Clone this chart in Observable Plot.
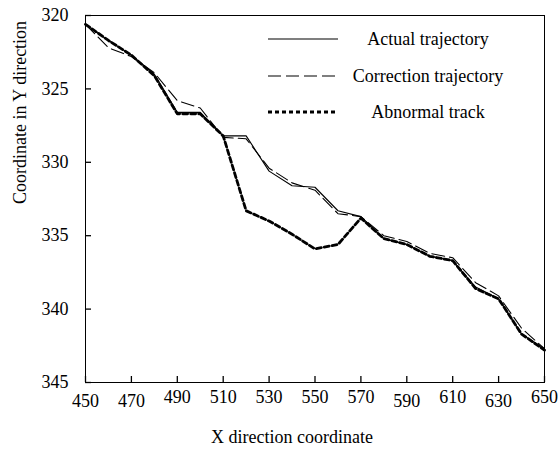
<!DOCTYPE html>
<html><head><meta charset="utf-8">
<script src="https://cdn.jsdelivr.net/npm/d3@7"></script>
<script src="https://cdn.jsdelivr.net/npm/@observablehq/plot@0.6"></script>
<style>
body{margin:0;background:#fff;}
#wrap{position:relative;width:558px;height:452px;font-family:"Liberation Serif","Times New Roman",serif;}
.lg{position:absolute;font-size:18px;color:#000;white-space:nowrap;transform:translate(-50%,-50%);font-family:"Liberation Serif","Times New Roman",serif;}
.ls{position:absolute;}
</style></head><body><div id="wrap"></div>
<script>
const xValues    = [450,460,470,480,490,500,510,520,530,540,550,560,570,580,590,600,610,620,630,640,650];
const actual     = [320.6,321.7,322.7,324.0,326.6,326.6,328.2,328.2,330.6,331.6,331.7,333.3,333.7,335.2,335.6,336.4,336.7,338.5,339.3,341.7,342.7];
const correction = [320.6,322.2,322.8,323.9,325.8,326.3,328.3,328.4,330.4,331.4,331.9,333.5,333.7,335.0,335.4,336.2,336.5,338.2,339.1,341.3,342.7];
const abnormal   = [320.6,321.7,322.7,324.1,326.7,326.7,328.2,333.3,334.0,334.9,335.9,335.6,333.8,335.2,335.6,336.4,336.7,338.6,339.3,341.7,342.8];
const seriesNames = ["Actual trajectory","Correction trajectory","Abnormal track"];
const xTicks = [450,470,490,510,530,550,570,590,610,630,650];
const xTicksLow = [450,470,590,630];
const yTicks = [320,325,330,335,340,345];
const xTitle = "X direction coordinate";
const yTitle = "Coordinate in Y direction";

const styles = [
  {stroke:"#000", strokeWidth:1.1},
  {stroke:"#000", strokeWidth:1.1, strokeDasharray:"13,5"},
  {stroke:"#000", strokeWidth:2.8, strokeDasharray:"5,3"}
];
const seriesVals = [actual, correction, abnormal];
const tables = seriesVals.map(vals => xValues.map((x,i)=>({x, y: vals[i]})));

const font = "'Liberation Serif', 'Times New Roman', serif";
const chart = Plot.plot({
  width:558, height:452,
  marginLeft:85, marginRight:14, marginTop:15, marginBottom:70,
  style:{fontFamily:font, fontSize:"18px", color:"#000", background:"#fff"},
  x:{domain:[450,650]},
  y:{domain:[320,345], reverse:true},
  marks:[
    Plot.frame({stroke:"#000", strokeWidth:1}),
    Plot.axisX(xTicks, {tickSize:6, dy:-6, tickFormat:()=>"", label:null, stroke:"#000", strokeWidth:1.3}),
    Plot.axisY(yTicks, {tickSize:6, dx:6, tickFormat:()=>"", label:null, stroke:"#000", strokeWidth:1.3}),
    Plot.axisX(xTicks.filter(t=>!xTicksLow.includes(t)), {tickSize:0, tickPadding:8, label:null, fontSize:18}),
    Plot.axisX(xTicksLow, {tickSize:0, tickPadding:12, label:null, fontSize:18}),
    Plot.axisY(yTicks, {tickSize:0, tickPadding:17, label:null, fontSize:18}),
    Plot.line(tables[0], {x:"x", y:"y", ...styles[0]}),
    Plot.line(tables[1], {x:"x", y:"y", ...styles[1]}),
    Plot.line(tables[2], {x:"x", y:"y", ...styles[2]}),
    Plot.text([xTitle], {text:d=>d, frameAnchor:"bottom", dy:60, dx:-23, fontSize:18}),
    Plot.text([yTitle], {text:d=>d, frameAnchor:"left", dx:-65, dy:5, rotate:-90, fontSize:18})
  ]
});
const wrap = document.getElementById("wrap");
wrap.appendChild(chart);

// legend inside plot area
seriesNames.forEach((name,i)=>{
  const cy = 39 + 36.5*i;
  const s = styles[i];
  const svgNS = "http://www.w3.org/2000/svg";
  const svg = document.createElementNS(svgNS,"svg");
  svg.setAttribute("width","72"); svg.setAttribute("height","8");
  svg.setAttribute("class","ls");
  svg.style.left = "267px"; svg.style.top = (cy-4)+"px";
  const ln = document.createElementNS(svgNS,"line");
  ln.setAttribute("x1","1"); ln.setAttribute("x2","71");
  ln.setAttribute("y1","4"); ln.setAttribute("y2","4");
  ln.setAttribute("stroke", s.stroke);
  ln.setAttribute("stroke-width", s.strokeWidth);
  if (s.strokeDasharray) ln.setAttribute("stroke-dasharray", i===2 ? "4,3" : s.strokeDasharray);
  svg.appendChild(ln);
  wrap.appendChild(svg);
  const t = document.createElement("div");
  t.className="lg"; t.textContent = name;
  t.style.left = "428px"; t.style.top = cy+"px";
  wrap.appendChild(t);
});
</script></body></html>
